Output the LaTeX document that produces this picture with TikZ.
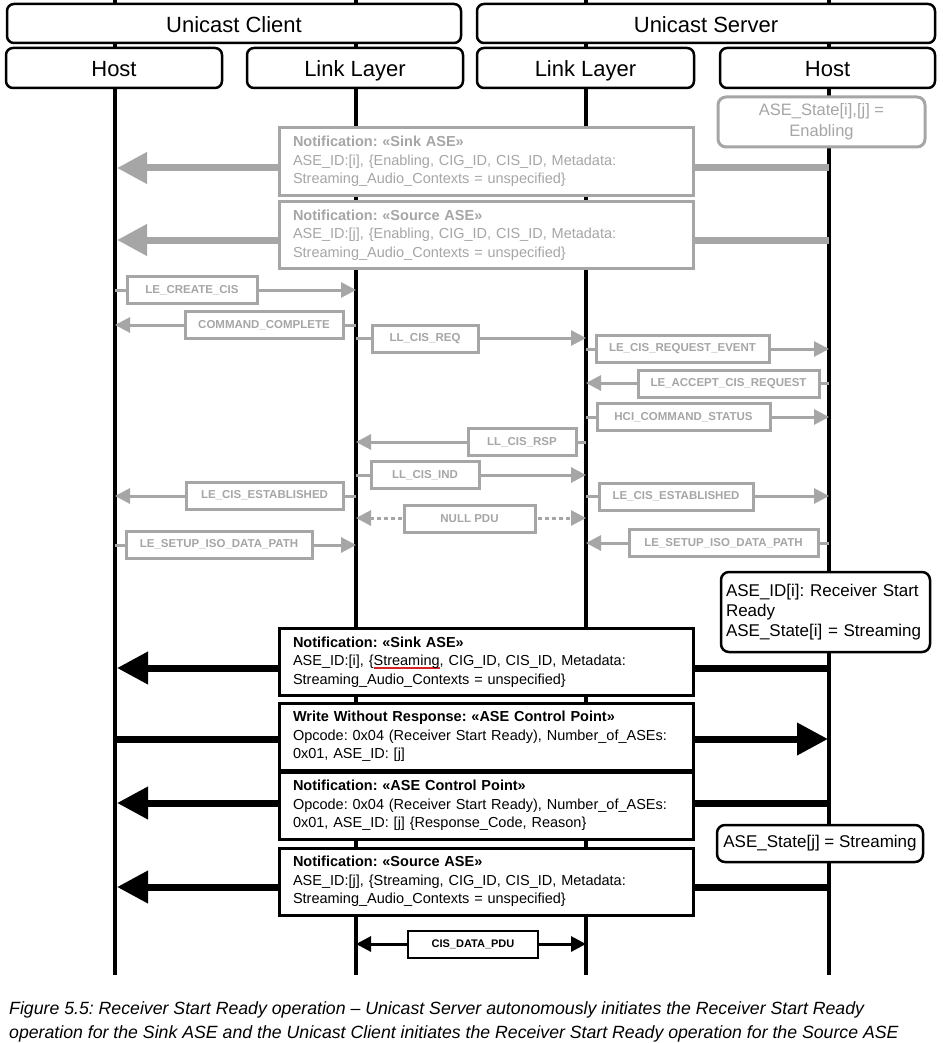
\documentclass[tikz,border=0pt]{standalone}
\usepackage{fontspec}
\setmainfont{Liberation Sans}
\usetikzlibrary{arrows.meta}
\definecolor{mg}{RGB}{166,166,166}
\definecolor{ulred}{RGB}{215,35,35}
\newcommand\redul[1]{\setbox0\hbox{#1}\rlap{\color{ulred}\rule[-3.2pt]{\wd0}{1.6pt}}#1}
\frenchspacing
\begin{document}
\begin{tikzpicture}[x=1pt,y=-1pt,
  hdr/.style={draw, line width=2.5pt, rounded corners=7pt, fill=white, inner sep=0pt, text height=18pt, text depth=0pt, font=\fontsize{22}{26}\selectfont},
  life/.style={line width=3.5pt},
  gl/.style={draw=mg, line width=3pt, fill=white, text=mg, inner sep=0pt, minimum height=27pt, font=\bfseries\fontsize{11.5}{13}\selectfont},
  garrow/.style={draw=mg, line width=3pt, -{Triangle[length=15pt,width=15pt]}},
  gdot/.style={draw=mg, line width=3pt, dash pattern=on 4pt off 3pt, {Triangle[length=15pt,width=15pt]}-{Triangle[length=15pt,width=15pt]}},
  gbig/.style={draw=mg, line width=7pt, -{Triangle[length=30pt,width=30pt]}},
  bbig/.style={draw=black, line width=7pt, -{Triangle[length=31pt,width=31pt]}},
  bigbox/.style={line width=3pt, fill=white, align=left, text width=386pt, inner xsep=14pt, inner ysep=0pt, minimum height=67pt, font=\fontsize{14.5}{18.5}\selectfont},
  gbox/.style={bigbox, draw=mg, text=mg},
  bbox/.style={bigbox, draw=black, text=black},
  state/.style={draw, line width=2.5pt, rounded corners=8pt, fill=white, inner sep=0pt, font=\fontsize{17}{20}\selectfont}
]
\useasboundingbox (0,0) rectangle (942,1043);

% lifelines
\coordinate (Atop) at (115,0); \coordinate (Abot) at (115,975);
\coordinate (Btop) at (356,0); \coordinate (Bbot) at (356,975);
\coordinate (Ctop) at (586,0); \coordinate (Cbot) at (586,975);
\coordinate (Dtop) at (829,0); \coordinate (Dbot) at (829,975);
\draw[life] (Atop) -- (Abot);
\draw[life] (Btop) -- (Bbot);
\draw[life] (Ctop) -- (Cbot);
\draw[life] (Dtop) -- (Dbot);

% headers
\node[hdr, minimum width=454pt, minimum height=39pt] (uc) at (234,23.5) {Unicast Client};
\node[hdr, minimum width=458pt, minimum height=39pt] (us) at (706,23.5) {Unicast Server};
\node[hdr, minimum width=216pt, minimum height=40pt] (h1) at (114,68) {Host};
\node[hdr, minimum width=216pt, minimum height=40pt] (l1) at (355,68) {Link Layer};
\node[hdr, minimum width=217pt, minimum height=40pt] (l2) at (585.5,68) {Link Layer};
\node[hdr, minimum width=215pt, minimum height=40pt] (h2) at (827.5,68) {Host};

% gray state
\node[state, draw=mg, text=mg, line width=3pt, minimum width=207pt, minimum height=50pt, align=center, font=\fontsize{16.5}{21}\selectfont] (st0) at (821.5,122) {ASE\_State[i],[j] =\\Enabling};

% gray big notifications
\coordinate (g1s) at (829,168); \coordinate (g1e) at (117,168);
\draw[gbig] (g1s) -- (g1e);
\node[gbox] (g1) at (486,161.5) {\textbf{Notification: «Sink ASE»}\\ASE\_ID:[i], \{Enabling, CIG\_ID, CIS\_ID, Metadata:\\Streaming\_Audio\_Contexts = unspecified\}};
\coordinate (g2s) at (829,240); \coordinate (g2e) at (117,240);
\draw[gbig] (g2s) -- (g2e);
\node[gbox] (g2) at (486,235) {\textbf{Notification: «Source ASE»}\\ASE\_ID:[j], \{Enabling, CIG\_ID, CIS\_ID, Metadata:\\Streaming\_Audio\_Contexts = unspecified\}};

% gray small messages
\coordinate (m1s) at (115,290); \coordinate (m1e) at (356,290);
\draw[garrow] (m1s) -- (m1e);
\node[gl, minimum width=130pt] (m1) at (192,290) {LE\_CREATE\_CIS};

\coordinate (m2s) at (356,325); \coordinate (m2e) at (115,325);
\draw[garrow] (m2s) -- (m2e);
\node[gl, minimum width=158pt] (m2) at (264,325) {COMMAND\_COMPLETE};

\coordinate (m3s) at (356,338); \coordinate (m3e) at (586,338);
\draw[garrow] (m3s) -- (m3e);
\node[gl, minimum width=106pt] (m3) at (425,338.5) {LL\_CIS\_REQ};

\coordinate (m4s) at (586,349); \coordinate (m4e) at (829,349);
\draw[garrow] (m4s) -- (m4e);
\node[gl, minimum width=173pt] (m4) at (682.5,348.5) {LE\_CIS\_REQUEST\_EVENT};

\coordinate (m5s) at (829,383); \coordinate (m5e) at (586,383);
\draw[garrow] (m5s) -- (m5e);
\node[gl, minimum width=181pt] (m5) at (728.5,383.5) {LE\_ACCEPT\_CIS\_REQUEST};

\coordinate (m6s) at (586,417); \coordinate (m6e) at (829,417);
\draw[garrow] (m6s) -- (m6e);
\node[gl, minimum width=173pt] (m6) at (683.5,417) {HCI\_COMMAND\_STATUS};

\coordinate (m7s) at (586,442); \coordinate (m7e) at (356,442);
\draw[garrow] (m7s) -- (m7e);
\node[gl, minimum width=108pt] (m7) at (522,442) {LL\_CIS\_RSP};

\coordinate (m8s) at (356,475); \coordinate (m8e) at (586,475);
\draw[garrow] (m8s) -- (m8e);
\node[gl, minimum width=108pt] (m8) at (425,475) {LL\_CIS\_IND};

\coordinate (m9s) at (356,496); \coordinate (m9e) at (115,496);
\draw[garrow] (m9s) -- (m9e);
\node[gl, minimum width=157pt] (m9) at (264.5,495.5) {LE\_CIS\_ESTABLISHED};

\coordinate (m10s) at (586,496); \coordinate (m10e) at (829,496);
\draw[garrow] (m10s) -- (m10e);
\node[gl, minimum width=154pt] (m10) at (676,496.5) {LE\_CIS\_ESTABLISHED};

\coordinate (m11s) at (356,518); \coordinate (m11e) at (586,518);
\draw[gdot] (m11s) -- (m11e);
\node[gl, minimum width=131pt] (m11) at (469.5,518.5) {NULL PDU};

\coordinate (m12s) at (115,545); \coordinate (m12e) at (356,545);
\draw[garrow] (m12s) -- (m12e);
\node[gl, minimum width=186pt] (m12) at (219,544.5) {LE\_SETUP\_ISO\_DATA\_PATH};

\coordinate (m13s) at (829,543); \coordinate (m13e) at (586,543);
\draw[garrow] (m13s) -- (m13e);
\node[gl, minimum width=189pt] (m13) at (723.5,543) {LE\_SETUP\_ISO\_DATA\_PATH};

% black state 1
\node[state, minimum width=209pt, minimum height=80pt, align=left, text width=199pt] (st1) at (825.5,612) {ASE\_ID[i]: Receiver Start\\Ready\\ASE\_State[i] = Streaming};

% black big notifications
\coordinate (b1s) at (829,668); \coordinate (b1e) at (117,668);
\draw[bbig] (b1s) -- (b1e);
\node[bbox] (b1) at (486,662) {\textbf{Notification: «Sink ASE»}\\ASE\_ID:[i], \{\redul{Streaming}, CIG\_ID, CIS\_ID, Metadata:\\Streaming\_Audio\_Contexts = unspecified\}};

\coordinate (b2s) at (115,739); \coordinate (b2e) at (828,739);
\draw[bbig] (b2s) -- (b2e);
\node[bbox] (b2) at (486,736.5) {\textbf{Write Without Response: «ASE Control Point»}\\Opcode: 0x04 (Receiver Start Ready), Number\_of\_ASEs:\\0x01, ASE\_ID: [j]};

\coordinate (b3s) at (829,803); \coordinate (b3e) at (117,803);
\draw[bbig] (b3s) -- (b3e);
\node[bbox] (b3) at (486,805.5) {\textbf{Notification: «ASE Control Point»}\\Opcode: 0x04 (Receiver Start Ready), Number\_of\_ASEs:\\0x01, ASE\_ID: [j] \{Response\_Code, Reason\}};

\node[state, minimum width=206pt, minimum height=37pt] (st2) at (820,843.5) {ASE\_State[j] = Streaming};

\coordinate (b4s) at (829,887); \coordinate (b4e) at (117,887);
\draw[bbig] (b4s) -- (b4e);
\node[bbox] (b4) at (486,881.5) {\textbf{Notification: «Source ASE»}\\ASE\_ID:[j], \{Streaming, CIG\_ID, CIS\_ID, Metadata:\\Streaming\_Audio\_Contexts = unspecified\}};

% CIS data
\coordinate (c1s) at (356,944); \coordinate (c1e) at (586,944);
\draw[line width=3pt, {Triangle[length=15pt,width=15pt]}-{Triangle[length=15pt,width=15pt]}] (c1s) -- (c1e);
\node[draw, line width=2.5pt, fill=white, inner sep=0pt, minimum width=130pt, minimum height=27pt, font=\bfseries\fontsize{11}{13}\selectfont] (c1) at (473,944.5) {CIS\_DATA\_PDU};

% caption
\node[anchor=north west, inner sep=0pt, align=left, font=\itshape\fontsize{17.7}{24}\selectfont] (cap) at (9,1001) {Figure 5.5: Receiver Start Ready operation – Unicast Server autonomously initiates the Receiver Start Ready\\operation for the Sink ASE and the Unicast Client initiates the Receiver Start Ready operation for the Source ASE};
\end{tikzpicture}
\end{document}
